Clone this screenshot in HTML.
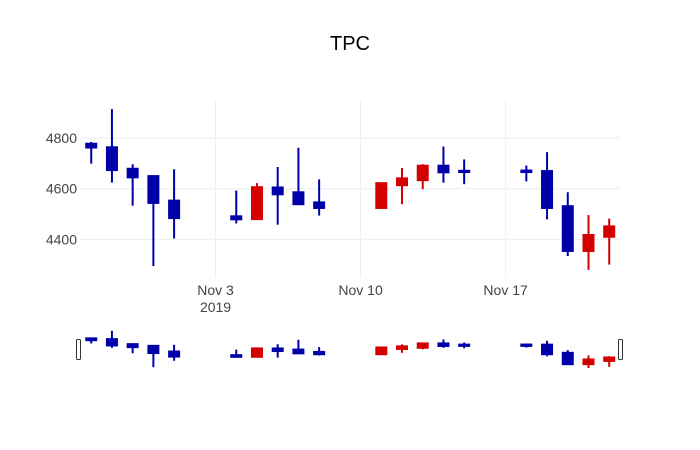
<!DOCTYPE html>
<html><head><meta charset="utf-8"><style>
html,body{margin:0;padding:0;background:#fff;}
svg{display:block;font-family:"Liberation Sans",sans-serif;}
</style></head><body>
<svg id="chart" width="700" height="450">
<rect width="700" height="450" fill="#fff"/>
<text x="350" y="50" text-anchor="middle" font-size="20" fill="#000">TPC</text>
<g id="grid"></g><g id="candles"></g><g id="slider"></g>
</svg>
<script>
const dates=["2019-10-28","2019-10-29","2019-10-30","2019-10-31","2019-11-01","2019-11-04","2019-11-05","2019-11-06","2019-11-07","2019-11-08","2019-11-11","2019-11-12","2019-11-13","2019-11-14","2019-11-15","2019-11-18","2019-11-19","2019-11-20","2019-11-21","2019-11-22"];
const openV=[4778,4764,4679,4650,4553,4491,4480,4605,4586,4546,4524,4614,4634,4691,4671,4672,4670,4531,4354,4410];
const highV=[4785,4915,4697,4650,4677,4593,4622,4686,4762,4637,4624,4682,4697,4767,4716,4692,4745,4586,4496,4482];
const lowV=[4699,4624,4533,4294,4403,4463,4480,4458,4535,4494,4522,4539,4598,4624,4618,4629,4479,4334,4279,4300];
const closeV=[4763,4674,4645,4544,4484,4479,4606,4578,4539,4524,4622,4641,4691,4665,4666,4666,4524,4354,4417,4451];
const yTicks=[4400,4600,4800];
const xTickDates=["2019-11-03","2019-11-10","2019-11-17"];
const xTickLabels=["Nov 3\n2019","Nov 10","Nov 17"];

const NS="http://www.w3.org/2000/svg";
const L=80,R=620,T=101,B=278;
const t0=Date.parse("2019-10-27T11:00:00Z"), t1=Date.parse("2019-11-22T12:30:00Z");
const x=d=>L+(Date.parse(d+"T00:00:00Z")-t0)/(t1-t0)*(R-L);
const yMin=4247,yMax=4947;
const y=v=>B-(v-yMin)/(yMax-yMin)*(B-T);
const sT=329,sB=369,sMin=4263,sMax=4946;
const sy=v=>sB-(v-sMin)/(sMax-sMin)*(sB-sT);
function el(tag,attrs,parent){const e=document.createElementNS(NS,tag);for(const k in attrs)e.setAttribute(k,attrs[k]);parent.appendChild(e);return e;}
const grid=document.getElementById('grid');
yTicks.forEach(v=>{
  const l=el('line',{x1:L,x2:R,y1:y(v),y2:y(v),stroke:'#eee','stroke-width':1},grid);
  
  
  const t=el('text',{x:L-3,y:y(v)+5,'text-anchor':'end','font-size':14,fill:'#444'},grid);
  t.textContent=v;
  
  
});
xTickDates.forEach((d,i)=>{
  const xx=x(d);
  const l=el('line',{x1:xx,x2:xx,y1:T,y2:B,stroke:'#eee','stroke-width':1},grid);
  
  
  const t=el('text',{x:xx,y:295,'text-anchor':'middle','font-size':14,fill:'#444'},grid);
  
  
  xTickLabels[i].split("\n").forEach((s,j)=>{const ts=el('tspan',{x:xx,dy:j?17:0},t);ts.textContent=s;});
});
const cg=document.getElementById('candles'), sg=document.getElementById('slider');
const bw=12;
dates.forEach((d,i)=>{
  const up=closeV[i]>=openV[i], col=up?'#d40000':'#0000a8';
  const xx=x(d);
  const g=el('g',{},cg);
  
  
  el('line',{x1:xx,x2:xx,y1:y(highV[i]),y2:y(lowV[i]),stroke:col,'stroke-width':2},g);
  const top=y(Math.max(openV[i],closeV[i])),bot=y(Math.min(openV[i],closeV[i]));
  el('rect',{x:xx-bw/2,y:top-1,width:bw,height:Math.max(bot-top,0)+2,fill:col},g);
  const g2=el('g',{},sg);
  
  
  el('line',{x1:xx,x2:xx,y1:sy(highV[i]),y2:sy(lowV[i]),stroke:col,'stroke-width':2},g2);
  const st=sy(Math.max(openV[i],closeV[i])),sb=sy(Math.min(openV[i],closeV[i]));
  el('rect',{x:xx-bw/2,y:st-1.5,width:bw,height:Math.max(sb-st,0)+3,fill:col},g2);
});
[L-2,R].forEach((hx,i)=>{
  const h=el('rect',{x:hx-1.5,y:339.5,width:4,height:20,rx:1,fill:'#fff',stroke:'#333','stroke-width':1},sg);
  
  
});
</script>
</body></html>
